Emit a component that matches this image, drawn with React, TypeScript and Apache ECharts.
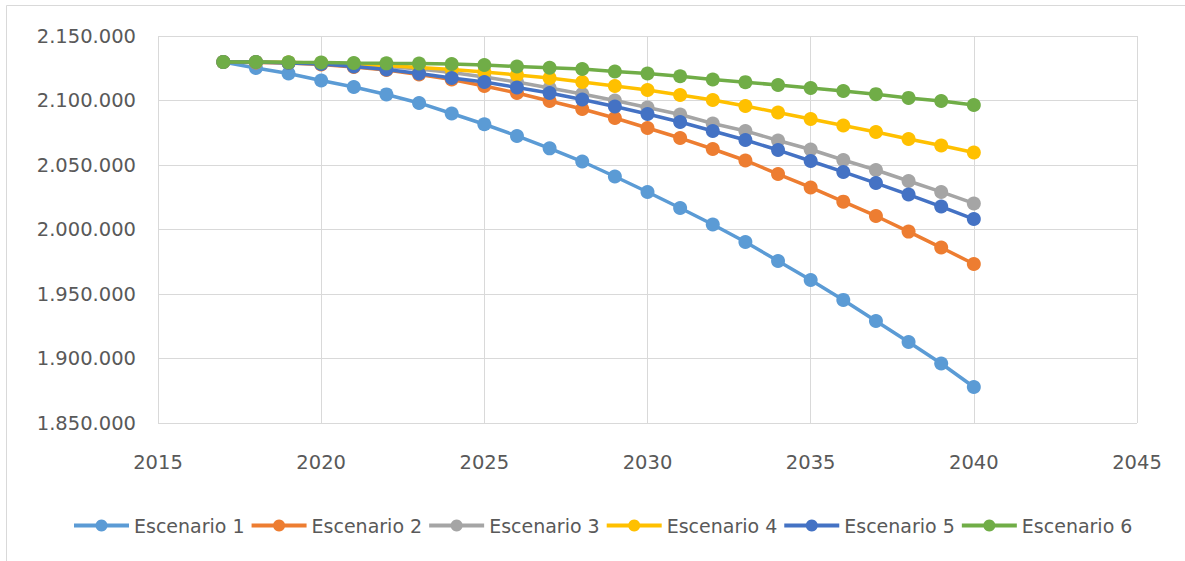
import React, { useEffect, useRef } from "react";
import * as echarts from "echarts";

const years = [2017, 2018, 2019, 2020, 2021, 2022, 2023, 2024, 2025, 2026, 2027, 2028, 2029, 2030, 2031, 2032, 2033, 2034, 2035, 2036, 2037, 2038, 2039, 2040];

const seriesNames = ["Escenario 1", "Escenario 2", "Escenario 3", "Escenario 4", "Escenario 5", "Escenario 6"];
const seriesColors = ["#5B9BD5", "#ED7D31", "#A5A5A5", "#FFC000", "#4472C4", "#70AD47"];

const escenario1 = [2129800, 2125200, 2120900, 2115500, 2110500, 2104700, 2098100, 2089900, 2081600, 2072500, 2062900, 2052700, 2041100, 2029100, 2016700, 2003900, 1990300, 1975600, 1960900, 1945400, 1929100, 1912800, 1896100, 1877900];
const escenario2 = [2129800, 2129500, 2129100, 2127900, 2126000, 2123600, 2120200, 2116300, 2111200, 2105800, 2099600, 2093400, 2086400, 2078700, 2070900, 2062400, 2053500, 2043000, 2032600, 2021600, 2010500, 1998400, 1986000, 1973300];
const escenario3 = [2129800, 2129800, 2129500, 2129100, 2127900, 2126400, 2124400, 2121700, 2118200, 2114300, 2109700, 2105000, 2100000, 2094600, 2089100, 2082200, 2076400, 2069000, 2062000, 2053900, 2046100, 2037600, 2029100, 2020200];
const escenario4 = [2129800, 2129800, 2129500, 2129100, 2128300, 2127100, 2125600, 2124000, 2122100, 2119800, 2117400, 2114300, 2111200, 2108100, 2104300, 2100400, 2095700, 2090700, 2085700, 2080600, 2075600, 2070200, 2065100, 2059700];
const escenario5 = [2129800, 2129800, 2129100, 2128300, 2126400, 2124000, 2120900, 2117400, 2114300, 2110100, 2105800, 2100800, 2095300, 2089500, 2083300, 2076400, 2069400, 2061600, 2053100, 2044600, 2036000, 2027100, 2017800, 2008100];
const escenario6 = [2129800, 2129800, 2129600, 2129500, 2129100, 2128800, 2128700, 2128300, 2127500, 2126400, 2125400, 2124400, 2122500, 2120900, 2118800, 2116300, 2114200, 2112000, 2109700, 2107400, 2104900, 2102000, 2099600, 2096500];

const allSeries = [escenario1, escenario2, escenario3, escenario4, escenario5, escenario6];

const xMin = 2015;
const xMax = 2045;
const xInterval = 5;
const yMin = 1850000;
const yMax = 2150000;
const yInterval = 50000;

function formatThousands(v: number): string {
  const s = Math.round(v).toString();
  return s.replace(/\B(?=(\d{3})+(?!\d))/g, ".");
}

export default function App() {
  const ref = useRef<HTMLDivElement>(null);

  useEffect(() => {
    if (!ref.current) return;
    const chart = echarts.init(ref.current, null, { renderer: "svg" });
    const font = "DejaVu Sans";
    chart.setOption({
      animation: false,
      backgroundColor: "#ffffff",
      graphic: [
        {
          type: "rect",
          shape: { x: 6.5, y: 5.5, width: 1200, height: 600 },
          style: { fill: "none", stroke: "#d9d9d9", lineWidth: 1 },
          silent: true,
        },
      ],
      grid: { left: 158, right: 48, top: 36, bottom: 138, containLabel: false },
      xAxis: {
        type: "value",
        min: xMin,
        max: xMax,
        interval: xInterval,
        axisLine: { show: false },
        axisTick: { show: false },
        splitLine: { show: true, lineStyle: { color: "#d9d9d9", width: 1 } },
        axisLabel: {
          color: "#595959",
          fontFamily: font,
          fontSize: 19.5,
          margin: 29,
          formatter: (v: number) => String(v),
        },
      },
      yAxis: {
        type: "value",
        min: yMin,
        max: yMax,
        interval: yInterval,
        axisLine: { show: false },
        axisTick: { show: false },
        splitLine: { show: true, lineStyle: { color: "#d9d9d9", width: 1 } },
        axisLabel: {
          color: "#595959",
          fontFamily: font,
          fontSize: 19.5,
          margin: 22,
          formatter: (v: number) => formatThousands(v),
        },
      },
      legend: {
        bottom: 21,
        left: 67,
        itemWidth: 55,
        itemHeight: 15,
        itemGap: 5,
        lineStyle: { width: 4 },
        textStyle: { color: "#595959", fontFamily: font, fontSize: 19, padding: [0, 0, 0, 0] },
        data: seriesNames,
      },
      series: seriesNames.map((name, i) => ({
        name,
        type: "line",
        data: years.map((y, j) => [y, allSeries[i][j]]),
        symbol: "circle",
        symbolSize: 14,
        showSymbol: true,
        lineStyle: { width: 3.5, color: seriesColors[i] },
        itemStyle: { color: seriesColors[i] },
        emphasis: { disabled: true },
        z: 2 + i,
      })),
    });
    return () => chart.dispose();
  }, []);

  return (
    <div
      ref={ref}
      style={{ position: "fixed", left: 0, top: 0, width: 1185, height: 561 }}
    />
  );
}
